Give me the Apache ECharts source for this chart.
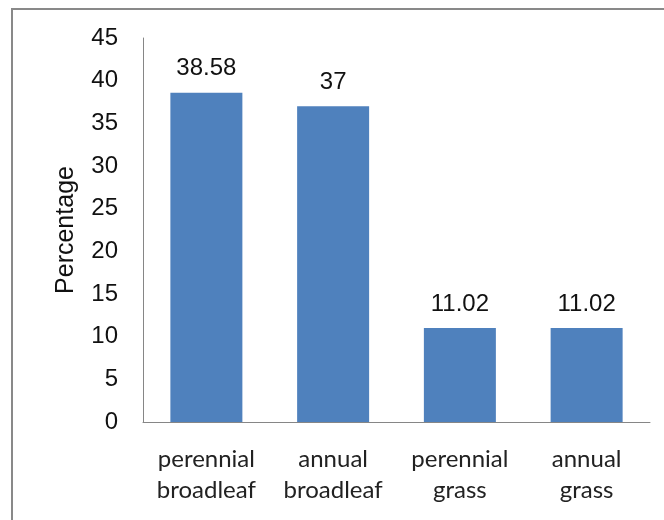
<!DOCTYPE html>
<html>
<head>
<meta charset="utf-8">
<script src="https://cdn.jsdelivr.net/npm/echarts@6/dist/echarts.min.js"></script>
<style>
  html, body { margin: 0; padding: 0; background: #fff; }
  #chart { width: 664px; height: 520px; }
</style>
</head>
<body>
<div id="chart"></div>
<script>
const categories = ["perennial\nbroadleaf", "annual\nbroadleaf", "perennial\ngrass", "annual\ngrass"];
const values = [38.58, 37, 11.02, 11.02];

const chart = echarts.init(document.getElementById("chart"));
chart.setOption({
  backgroundColor: "#fff",
  animation: false,
  graphic: [{
    type: "rect",
    shape: { x: 12, y: 9, width: 700, height: 600 },
    style: { fill: "none", stroke: "#898989", lineWidth: 2 },
    silent: true
  }],
  grid: { left: 143, right: 14, top: 38, bottom: 98 },
  xAxis: {
    type: "category",
    data: categories,
    axisLine: { lineStyle: { color: "#868686" } },
    axisTick: { show: false },
    axisLabel: {
      interval: 0,
      color: "#222",
      fontFamily: "Lato, 'Liberation Sans', sans-serif",
      fontSize: 24,
      lineHeight: 31,
      margin: 22
    }
  },
  yAxis: {
    type: "value",
    min: 0,
    max: 45,
    interval: 5,
    name: "Percentage",
    nameLocation: "middle",
    nameGap: 64,
    nameRotate: 90,
    nameTextStyle: { color: "#111", fontSize: 25, fontFamily: "'Liberation Sans', Arial, sans-serif" },
    splitLine: { show: false },
    axisLine: { show: true, lineStyle: { color: "#868686" } },
    axisTick: { show: false },
    axisLabel: {
      color: "#111",
      fontSize: 24,
      fontFamily: "'Liberation Sans', Arial, sans-serif",
      margin: 25
    }
  },
  series: [{
    type: "bar",
    data: values,
    barWidth: 72,
    itemStyle: { color: "#4F81BD" },
    label: {
      show: true,
      position: "top",
      distance: 12,
      color: "#111",
      fontSize: 24,
      fontFamily: "'Liberation Sans', Arial, sans-serif"
    }
  }]
});
</script>
</body>
</html>
